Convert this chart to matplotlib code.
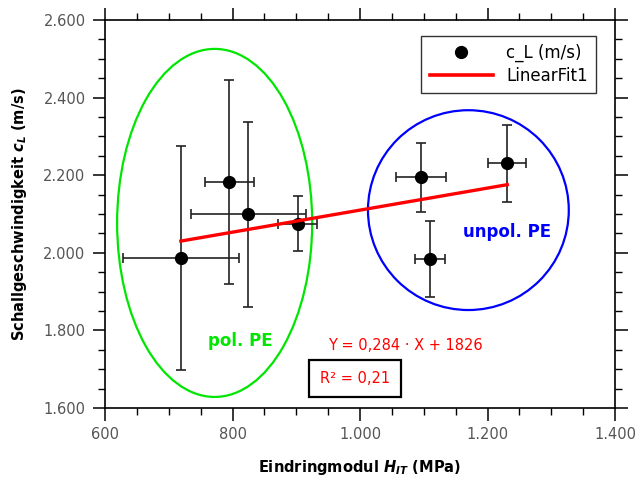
import numpy as np
import matplotlib
matplotlib.use('Agg')
import matplotlib.pyplot as plt
from matplotlib.patches import Ellipse
from matplotlib.lines import Line2D
from matplotlib.ticker import MultipleLocator, FuncFormatter

# Eindringmodul H_IT (MPa) and Schallgeschwindigkeit c_L (m/s)
h_it = [719, 795, 825, 902, 1096, 1231, 1110]
h_err = [91, 38, 90, 30, 39, 30, 23]
c_l = [1986, 2182, 2099, 2075, 2195, 2231, 1984]
c_err = [288, 263, 239, 71, 89, 99, 99]

# linear fit as printed on the chart
slope = 0.284
intercept = 1826
r2_text = 'R² = 0,21'
eq_text = 'Y = 0,284 · X + 1826'

# group ellipses: centre x, centre y, width, height (data units)
pol_ell = (772, 2077, 306, 897)
unpol_ell = (1170, 2110, 315, 515)


def de_fmt(v, pos):
    # german thousands separator
    return '{:,.0f}'.format(v).replace(',', '.')


fig = plt.figure(figsize=(6.38, 4.83), dpi=100)
ax = fig.add_axes([105/638, 1-408/483, 510/638, 388/483])

ax.errorbar(h_it, c_l, xerr=h_err, yerr=c_err, fmt='o', color='black',
            ecolor='#222222', elinewidth=1.2, capsize=3.8, capthick=1.2,
            markersize=8.5, zorder=3)

xf = np.array([min(h_it), max(h_it)])
ax.plot(xf, slope*xf + intercept, color='red', lw=2.4, zorder=4)

e1 = Ellipse((pol_ell[0], pol_ell[1]), pol_ell[2], pol_ell[3], fill=False,
             edgecolor='#00e600', lw=1.6, zorder=2)
e2 = Ellipse((unpol_ell[0], unpol_ell[1]), unpol_ell[2], unpol_ell[3], fill=False,
             edgecolor='#0000ff', lw=1.6, zorder=2)
ax.add_patch(e1)
ax.add_patch(e2)

ax.text(812, 1773, 'pol. PE', color='#00e600', fontsize=12, fontweight='bold',
        ha='center', va='center')
ax.text(1231, 2054, 'unpol. PE', color='#0000ff', fontsize=12, fontweight='bold',
        ha='center', va='center')
ax.text(1071, 1762, eq_text, color='red', fontsize=10.5, ha='center', va='center')
ax.text(992, 1675, r2_text, color='red', fontsize=10.5, ha='center', va='center',
        bbox=dict(boxstyle='square,pad=0.75', facecolor='white', edgecolor='black', lw=1.6))

ax.set_xlim(600, 1400)
ax.set_ylim(1600, 2600)
ax.xaxis.set_major_locator(MultipleLocator(200))
ax.xaxis.set_minor_locator(MultipleLocator(50))
ax.yaxis.set_major_locator(MultipleLocator(200))
ax.yaxis.set_minor_locator(MultipleLocator(50))
ax.xaxis.set_major_formatter(FuncFormatter(de_fmt))
ax.yaxis.set_major_formatter(FuncFormatter(de_fmt))
ax.tick_params(which='both', direction='out', top=True, right=True,
               labeltop=False, labelright=False, labelsize=10.5,
               labelcolor='#555555', color='black')
ax.tick_params(which='major', length=9, width=1.1, pad=5)
ax.tick_params(which='minor', length=5, width=1.0)
for s in ax.spines.values():
    s.set_linewidth(1.2)

ax.set_xlabel('Eindringmodul $\\mathbfit{H}_{\\mathbfit{IT}}$ (MPa)', fontsize=10.5,
              fontweight='bold', labelpad=11)
ax.set_ylabel('Schallgeschwindigkeit $\\mathbfit{c}_{\\mathbfit{L}}$ (m/s)', fontsize=10.5,
              fontweight='bold', labelpad=10)

handles = [Line2D([], [], marker='o', ls='none', color='black', markersize=8.5),
           Line2D([], [], color='red', lw=2.6)]
leg = ax.legend(handles, ['c_L (m/s)', 'LinearFit1'], loc='upper right',
                bbox_to_anchor=(0.963, 0.96), fontsize=12, frameon=True,
                fancybox=False, edgecolor='black', handlelength=3.8,
                borderpad=0.5, labelspacing=0.3, handletextpad=0.8,
                borderaxespad=0)
leg.get_frame().set_linewidth(1.0)

fig.savefig('out.png', dpi=100)
